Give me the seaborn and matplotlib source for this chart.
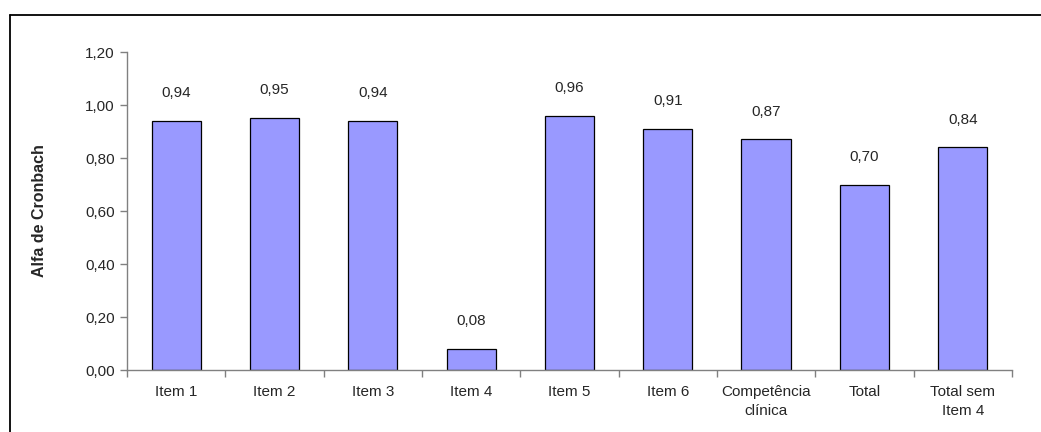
import matplotlib
matplotlib.use("Agg")
import matplotlib.pyplot as plt
import seaborn as sns
import pandas as pd
import numpy as np
from matplotlib.lines import Line2D
from matplotlib.ticker import FixedLocator, FuncFormatter

categories = ["Item 1", "Item 2", "Item 3", "Item 4", "Item 5", "Item 6",
              "Competência\nclínica", "Total", "Total sem\nItem 4"]
alpha_values = [0.94, 0.95, 0.94, 0.08, 0.96, 0.91, 0.87, 0.70, 0.84]
y_ticks = [0.0, 0.2, 0.4, 0.6, 0.8, 1.0, 1.2]

sns.set_theme(style="white")
plt.rcParams["font.family"] = ["Liberation Sans", "DejaVu Sans"]

df = pd.DataFrame({"categoria": categories, "alfa": alpha_values})

fig = plt.figure(figsize=(10.41, 4.32), dpi=100)
ax = fig.add_axes([0.122, 0.1435, 0.850, 0.7361])

sns.barplot(data=df, x="categoria", y="alfa", ax=ax, color="#9999FF",
            saturation=1, width=0.5, edgecolor="black", linewidth=0.9)

ax.set_ylim(0, 1.2)
ax.set_xlim(-0.5, len(categories) - 0.5)
ax.yaxis.set_major_locator(FixedLocator(y_ticks))
ax.yaxis.set_major_formatter(FuncFormatter(lambda v, p: f"{v:.2f}".replace(".", ",")))

for side in ["top", "right"]:
    ax.spines[side].set_visible(False)
for side in ["left", "bottom"]:
    ax.spines[side].set_color("#808080")
    ax.spines[side].set_linewidth(1.0)

ax.tick_params(axis="y", which="major", direction="out", length=5, width=1,
               color="#808080", labelsize=11, pad=4, left=True)
ax.set_xticks(range(len(categories)))
ax.set_xticklabels(categories, fontsize=11, linespacing=1.45)
ax.tick_params(axis="x", which="major", length=0, pad=11)
ax.set_xticks(np.arange(-0.5, len(categories), 1.0), minor=True)
ax.tick_params(axis="x", which="minor", direction="out", length=5, width=1,
               color="#808080", bottom=True)

ax.set_xlabel("")
ax.set_ylabel("Alfa de Cronbach", fontsize=11.5, fontweight="bold", labelpad=27)

for i, v in enumerate(alpha_values):
    ax.annotate(f"{v:.2f}".replace(".", ","), xy=(i, v), xytext=(0, 20),
                textcoords="offset points", ha="center", va="center", fontsize=11)

# Chart frame
fig.add_artist(Line2D([10 / 1041, 1.0], [1 - 14.5 / 432, 1 - 14.5 / 432],
                      transform=fig.transFigure, color="black", lw=1.3))
fig.add_artist(Line2D([10 / 1041, 10 / 1041], [0.0, 1 - 14.5 / 432],
                      transform=fig.transFigure, color="black", lw=1.3))

fig.savefig("out.png", dpi=100)
